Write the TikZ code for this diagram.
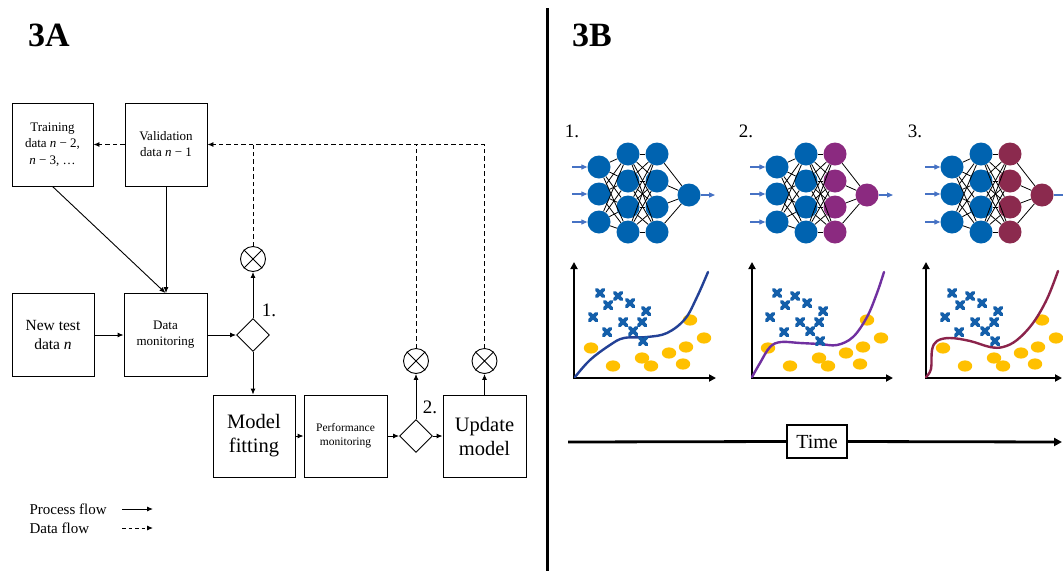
\documentclass[tikz,border=0pt]{standalone}
\usepackage{fontspec}
\setmainfont{Liberation Serif}
\usetikzlibrary{arrows.meta,shapes.geometric}
\definecolor{nnblue}{RGB}{0,99,176}
\definecolor{nnpurple}{RGB}{139,42,128}
\definecolor{nnmaroon}{RGB}{139,42,78}
\definecolor{crvone}{RGB}{35,65,150}
\definecolor{crvtwo}{RGB}{112,48,160}
\definecolor{crvthree}{RGB}{139,35,75}
\definecolor{dotyel}{RGB}{255,192,0}
\definecolor{arrblue}{RGB}{70,114,196}
\definecolor{xblue}{RGB}{20,95,170}
\begin{document}
\begin{tikzpicture}[x=1pt,y=-1pt,
  box/.style={draw, line width=0.9pt, minimum width=82pt, minimum height=83pt, inner sep=1pt, align=center},
  proc/.style={line width=0.9pt, -{Latex[length=6pt,width=5pt]}},
  dataflow/.style={line width=0.9pt, dash pattern=on 4.5pt off 3pt, -{Latex[length=6pt,width=5pt]}},
  dataline/.style={line width=0.9pt, dash pattern=on 4.5pt off 3pt},
  gate/.style={draw, line width=0.9pt, circle, minimum size=25pt, inner sep=0pt},
  decide/.style={draw, line width=0.9pt, diamond, minimum width=33pt, minimum height=33pt, inner sep=0pt},
  neuron/.style={circle, minimum size=23pt, inner sep=0pt},
  nnedge/.style={line width=0.8pt, black},
  inarrow/.style={arrblue, line width=1.2pt, -{Triangle[length=6pt,width=5pt]}},
  axisarrow/.style={line width=2.4pt, -{Triangle[length=7pt,width=7pt]}},
  curvestyle/.style={line width=2.4pt, line cap=round},
  xcross/.pic={\draw[xblue, line width=3.8pt, line cap=round] (-3.4,-3.4) -- (3.4,3.4) (-3.4,3.4) -- (3.4,-3.4);},
  ydot/.pic={\fill[dotyel] (0,0) ellipse [x radius=7.2pt, y radius=5.6pt];}
]
\useasboundingbox (0,0) rectangle (1063,571);
\fill[white] (0,0) rectangle (1063,571);

% headings and divider
\node[font=\fontsize{34}{40}\selectfont\bfseries] (h3a) at (49,35) {3A};
\node[font=\fontsize{34}{40}\selectfont\bfseries] (h3b) at (592,35) {3B};
\coordinate (divtop) at (547,8);
\coordinate (divbot) at (547,571);
\draw[line width=3pt] (divtop) -- (divbot);

% ---------------- 3A ----------------
\node[box, minimum width=81pt, font=\fontsize{13}{16.5}\selectfont] (train) at (52.5,144.5) {Training\\data \textit{n} − 2,\\\textit{n} − 3, …};
\node[box, font=\fontsize{13}{16}\selectfont] (val) at (166,144.5) {Validation\\data \textit{n} − 1};
\node[box, font=\fontsize{15.5}{19}\selectfont] (newt) at (53,335) {New test\\data \textit{n}};
\node[box, minimum width=83pt, font=\fontsize{13}{16}\selectfont] (dm) at (165.5,335) {Data\\monitoring};
\node[decide] (d1) at (253,335) {};
\node[gate] (c1) at (253,259) {};
\node[box, minimum height=82pt, font=\fontsize{20.5}{24}\selectfont] (mf) at (254,436) {Model\\fitting};
\node[box, minimum width=83pt, minimum height=82pt, font=\fontsize{11.5}{14}\selectfont] (pm) at (345.5,436) {Performance\\monitoring};
\node[decide] (d2) at (416,436) {};
\node[box, minimum width=83pt, minimum height=82pt, font=\fontsize{20.5}{24}\selectfont] (um) at (484.5,436) {Update\\model};
\node[gate] (c2) at (416,361) {};
\node[gate] (c3) at (484.5,361) {};
\foreach \g in {c1,c2,c3} {
  \draw[line width=0.9pt] (\g.north east) -- (\g.south west) (\g.north west) -- (\g.south east);
}
\node[font=\fontsize{19}{22}\selectfont] (lab1) at (269,310) {1.};
\node[font=\fontsize{19}{22}\selectfont] (lab2) at (430,407) {2.};

% process flow
\draw[proc] (train.south) -- (dm.north);
\draw[proc] (val.south) -- (val.south |- dm.north);
\draw[proc] (newt.east) -- (dm.west);
\draw[proc] (dm.east) -- (d1.west);
\draw[proc] (d1.north) -- (c1.south);
\draw[proc] (d1.south) -- (d1.south |- mf.north);
\draw[proc] (mf.east) -- (pm.west);
\draw[proc] (pm.east) -- (d2.west);
\draw[proc] (d2.east) -- (um.west);
\draw[proc] (d2.north) -- (c2.south);
\draw[proc] (um.north) -- (c3.south);

% data flow
\draw[dataflow] (c3.north) |- (val.east);
\draw[dataline] (c1.north) -- (c1.north |- val.east);
\draw[dataline] (c2.north) -- (c2.north |- val.east);
\draw[dataflow] (val.west) -- (train.east);

% legend
\node[anchor=west, font=\fontsize{15}{18}\selectfont] (lgp) at (26,509) {Process flow};
\node[anchor=west, font=\fontsize{15}{18}\selectfont] (lgd) at (26,528) {Data flow};
\coordinate (lgps) at (122,509); \coordinate (lgpe) at (153,509);
\coordinate (lgds) at (122,528); \coordinate (lgde) at (153,528);
\draw[proc] (lgps) -- (lgpe);
\draw[dataflow, dash pattern=on 3.5pt off 3pt] (lgds) -- (lgde);

% ---------------- 3B ----------------
\node[font=\fontsize{19}{22}\selectfont] (s1) at (572,131) {1.};
\node[font=\fontsize{19}{22}\selectfont] (s2) at (746,131) {2.};
\node[font=\fontsize{19}{22}\selectfont] (s3) at (915,131) {3.};

\foreach \k/\ox/\col in {1/0/nnblue, 2/178/nnpurple, 3/353/nnmaroon} {
  \foreach \i/\y in {1/167,2/194,3/222} {
    \node[neuron, fill=nnblue] (a\k\i) at (599+\ox,\y) {};
    \coordinate (in\k\i) at (572+\ox,\y);
    \draw[inarrow] (in\k\i) -- (a\k\i);
  }
  \foreach \i/\y in {1/154,2/181,3/207,4/232} {
    \node[neuron, fill=nnblue] (b\k\i) at (628+\ox,\y) {};
    \node[neuron, fill=\col] (c\k\i) at (657+\ox,\y) {};
  }
  \node[neuron, fill=\col] (o\k) at (689+\ox,195) {};
  \foreach \i in {1,2,3} { \foreach \j in {1,2,3,4} { \draw[nnedge] (a\k\i) -- (b\k\j); } }
  \foreach \i in {1,2,3,4} { \foreach \j in {1,2,3,4} { \draw[nnedge] (b\k\i) -- (c\k\j); } }
  \foreach \i in {1,2,3,4} { \draw[nnedge] (c\k\i) -- (o\k); }
}
\coordinate (out1) at (715,195);
\coordinate (out2) at (893,195);
\coordinate (out3) at (1063,195);
\draw[inarrow] (o1) -- (out1);
\draw[inarrow] (o2) -- (out2);
\draw[arrblue, line width=1.2pt] (o3) -- (out3);

% plots: dots
\foreach \ox in {0,177,352} {
  \begin{scope}[xshift=\ox]
    \foreach \p in {(690,320),(704,338),(591,348),(686,347),(669,353),(642,358),(613,366),(651,366),(683,364)}
      \pic at \p {ydot};
  \end{scope}
}
% axes
\coordinate (o1x) at (574,378); \coordinate (o1t) at (574,262); \coordinate (o1r) at (716,378);
\coordinate (o2x) at (752,378); \coordinate (o2t) at (752,262); \coordinate (o2r) at (893,378);
\coordinate (o3x) at (926,378); \coordinate (o3t) at (926,262); \coordinate (o3r) at (1062,378);
\draw[axisarrow, shorten <=-1.2pt] (o1x) -- (o1t);
\draw[axisarrow, shorten <=-1.2pt] (o1x) -- (o1r);
\draw[axisarrow, shorten <=-1.2pt] (o2x) -- (o2t);
\draw[axisarrow, shorten <=-1.2pt] (o2x) -- (o2r);
\draw[axisarrow, shorten <=-1.2pt] (o3x) -- (o3t);
\draw[axisarrow, shorten <=-1.2pt] (o3x) -- (o3r);
% curves
\draw[curvestyle, crvone] plot[smooth, tension=0.6] coordinates {(575,377) (590,360) (610,345) (624,338) (647,337) (667,333) (685,319) (697,297) (708,272)};
\draw[curvestyle, crvtwo] plot[smooth, tension=0.6] coordinates {(752,377) (760,363) (770,347) (781,342) (800,343) (820,344) (837,345) (853,337) (867,317) (877,293) (884,272)};
\draw[curvestyle, crvthree] plot[smooth, tension=0.6] coordinates {(926,377) (931,369) (932,350) (937,341) (950,338) (970,341) (990,347) (1003,347) (1017,340) (1033,323) (1047,299) (1058,271)};
% crosses
\foreach \ox in {0,177,352} {
  \begin{scope}[xshift=\ox]
    \foreach \p in {(600,293),(618,296),(608,305),(630,303),(646,311),(593,317),(623,322),(642,322),(633,331),(607,332),(643,341)}
      \pic at \p {xcross};
  \end{scope}
}

% time axis
\node[draw, line width=2.4pt, minimum width=60pt, minimum height=33pt, inner sep=2pt, font=\fontsize{20}{24}\selectfont] (time) at (817,441.5) {Time};
\coordinate (ts) at (568,442);
\coordinate (te) at (1062,442);
\draw[line width=2.8pt] (ts) -- (time.west);
\draw[line width=2.8pt, -{Triangle[length=8pt,width=8pt]}] (time.east) -- (te);
\end{tikzpicture}
\end{document}
